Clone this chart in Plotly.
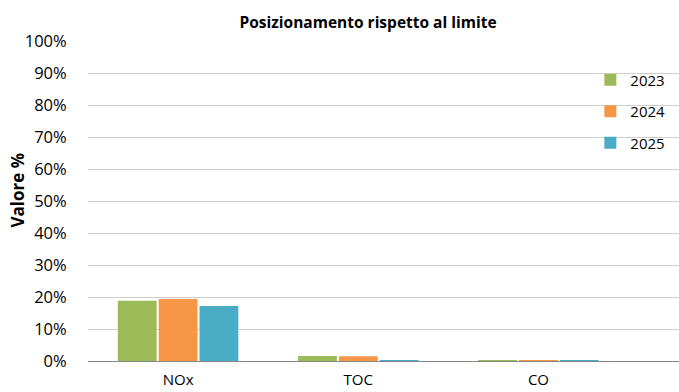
import plotly.graph_objects as go

categories = ["NOx", "TOC", "CO"]
years = ["2023", "2024", "2025"]
values_2023 = [18.8, 1.6, 0.1]
values_2024 = [19.4, 1.5, 0.2]
values_2025 = [17.2, 0.1, 0.1]
colors = ["#9BBB59", "#F79646", "#4BACC6"]
y_ticks = list(range(0, 101, 10))

series = [values_2023, values_2024, values_2025]

fig = go.Figure()
for year, vals, col in zip(years, series, colors):
    fig.add_trace(go.Bar(
        x=categories, y=vals, name=year, legendgroup=year,
        marker=dict(color=col, line=dict(width=0)),
    ))

font_family = "Open Sans, Liberation Sans, sans-serif"

fig.update_layout(
    width=679, height=392,
    margin=dict(l=88, r=0, t=41, b=31),
    paper_bgcolor="white", plot_bgcolor="white",
    font=dict(family=font_family, size=15, color="#000000"),
    barmode="group", bargap=0.32, bargroupgap=0.05,
    title=dict(text="<b>Posizionamento rispetto al limite</b>",
               x=0.542, xanchor="center", y=0.943, yanchor="middle",
               xref="container", yref="container",
               font=dict(size=15.5, family=font_family)),
    legend=dict(x=0.85, y=0.93, xanchor="left", yanchor="top",
                bgcolor="rgba(0,0,0,0)", font=dict(size=15),
                traceorder="grouped", tracegroupgap=9,
                itemwidth=30),
    showlegend=True,
)

# y-axis title placed as a rotated annotation
fig.add_annotation(
    text="<b>Valore %</b>", textangle=-90,
    xref="paper", yref="paper", x=-0.119, y=0.535,
    xanchor="center", yanchor="middle", showarrow=False,
    font=dict(size=17, family=font_family, color="#000000"),
)

fig.update_xaxes(
    type="category", range=[-0.5, 2.78], automargin=False,
    showgrid=False, showline=True, linecolor="#868686", linewidth=1,
    ticks="outside", ticklen=5, tickcolor="rgba(0,0,0,0)",
    tickfont=dict(size=15), zeroline=False,
)
fig.update_yaxes(
    range=[0, 100], tickvals=y_ticks, automargin=False,
    ticktext=[f"{v}%" for v in y_ticks],
    showgrid=True, gridcolor="#D0D0D0", gridwidth=1,
    zeroline=False, showline=False,
    ticks="outside", ticklen=17, tickcolor="rgba(0,0,0,0)",
    tickfont=dict(size=16.5),
)

fig.write_html("out.html")
